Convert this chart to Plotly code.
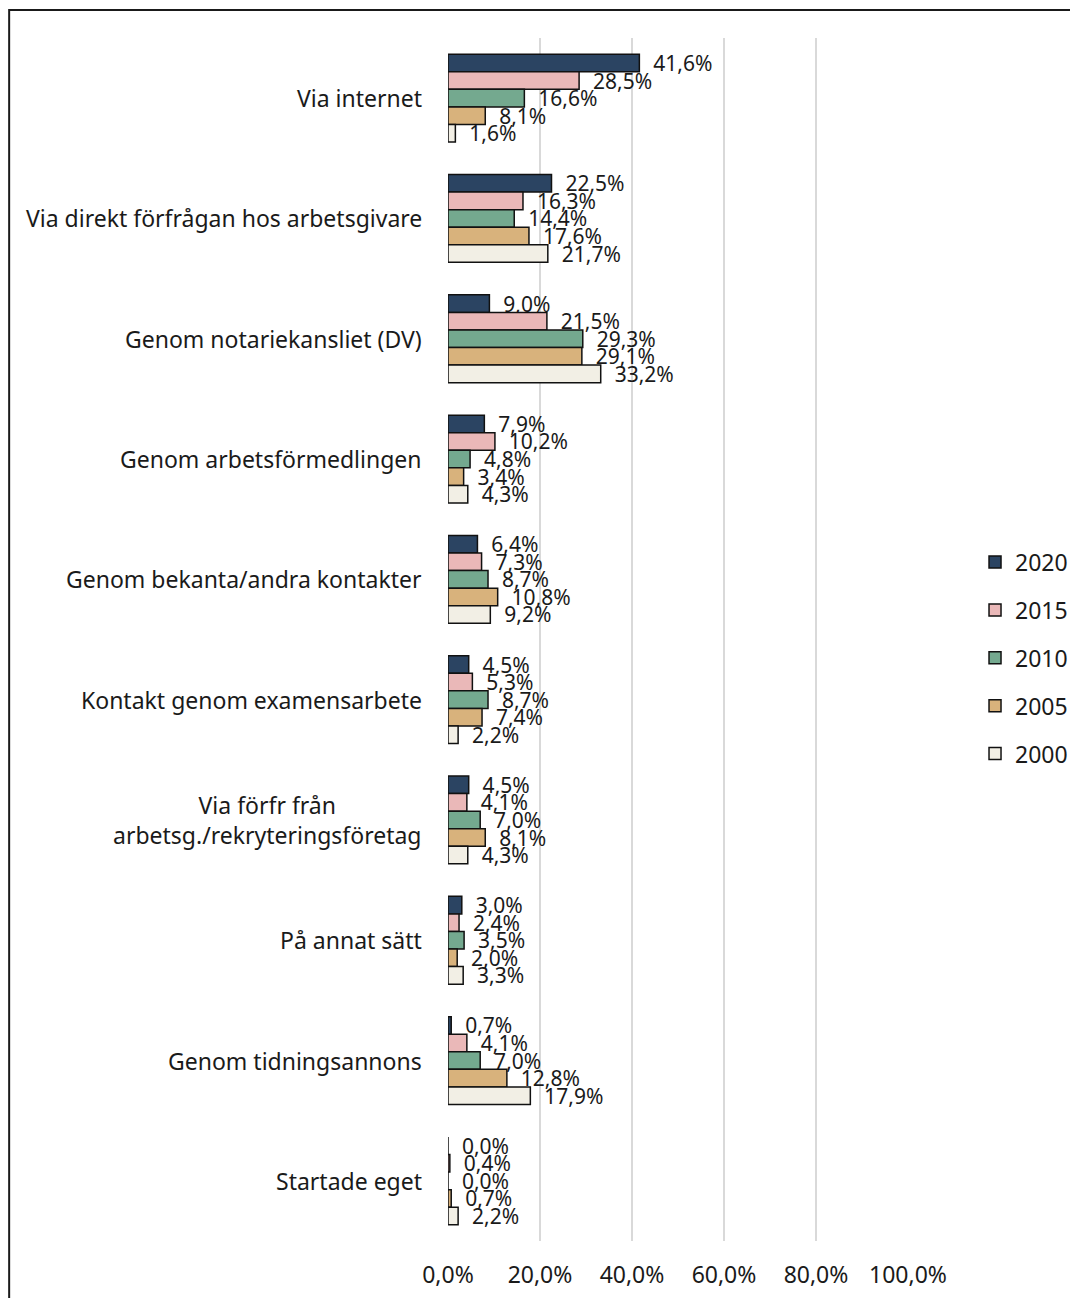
import plotly.graph_objects as go

categories = [
    "Via internet",
    "Via direkt förfrågan hos arbetsgivare",
    "Genom notariekansliet (DV)",
    "Genom arbetsförmedlingen",
    "Genom bekanta/andra kontakter",
    "Kontakt genom examensarbete",
    "Via förfr från<br>arbetsg./rekryteringsföretag",
    "På annat sätt",
    "Genom tidningsannons",
    "Startade eget",
]

years = ["2020", "2015", "2010", "2005", "2000"]

v2020 = [41.6, 22.5, 9.0, 7.9, 6.4, 4.5, 4.5, 3.0, 0.7, 0.0]
v2015 = [28.5, 16.3, 21.5, 10.2, 7.3, 5.3, 4.1, 2.4, 4.1, 0.4]
v2010 = [16.6, 14.4, 29.3, 4.8, 8.7, 8.7, 7.0, 3.5, 7.0, 0.0]
v2005 = [8.1, 17.6, 29.1, 3.4, 10.8, 7.4, 8.1, 2.0, 12.8, 0.7]
v2000 = [1.6, 21.7, 33.2, 4.3, 9.2, 2.2, 4.3, 3.3, 17.9, 2.2]

tick_vals = [0, 20, 40, 60, 80, 100]
tick_text = ["0,0%", "20,0%", "40,0%", "60,0%", "80,0%", "100,0%"]

colors = ["#2b4462", "#eab8b8", "#74a98f", "#d8b27c", "#f2efe5"]
series = [v2020, v2015, v2010, v2005, v2000]


def pct(v):
    return "\u00a0\u00a0" + f"{v:.1f}".replace(".", ",") + "%"


fig = go.Figure()
for year, vals, col in zip(years, series, colors):
    fig.add_trace(go.Bar(
        y=categories,
        x=vals,
        name=year,
        orientation="h",
        marker=dict(color=col, line=dict(color="#111111", width=1.5)),
        text=[pct(v) for v in vals],
        textposition="outside",
        textfont=dict(size=21, color="#1a1a1a"),
        constraintext="none",
        cliponaxis=False,
        legendgroup=year,
    ))

# category labels as annotations so the two-line one can be centred
for cat in categories:
    fig.add_annotation(
        x=0, xref="paper", y=cat, yref="y",
        text=cat, showarrow=False,
        xanchor="right", xshift=-24, align="center",
        font=dict(size=23, color="#1a1a1a"),
    )

# outer frame
fig.add_shape(type="rect", xref="paper", yref="paper",
              x0=-0.954, x1=1.40, y0=-0.07, y1=1.0233,
              line=dict(color="#1a1a1a", width=2))

fig.update_layout(
    width=1078, height=1298, autosize=False,
    margin=dict(l=440, r=178, t=30, b=65),
    paper_bgcolor="white", plot_bgcolor="white",
    font=dict(family="Noto Sans", color="#1a1a1a"),
    barmode="group", bargap=0.27, bargroupgap=0,
    showlegend=True,
    legend=dict(x=1.1457, xanchor="left", y=0.4846, yanchor="middle",
                font=dict(size=23), tracegroupgap=15,
                itemwidth=30, bgcolor="rgba(0,0,0,0)"),
    xaxis=dict(range=[0, 100], tickvals=tick_vals, ticktext=tick_text,
               showgrid=True, gridcolor="#d9d9d9", gridwidth=2,
               zeroline=False, showline=False,
               tickfont=dict(size=23), ticklabelstandoff=18),
    yaxis=dict(autorange="reversed", showticklabels=False,
               showgrid=False, zeroline=False, showline=False),
)

fig.write_html("out.html")
